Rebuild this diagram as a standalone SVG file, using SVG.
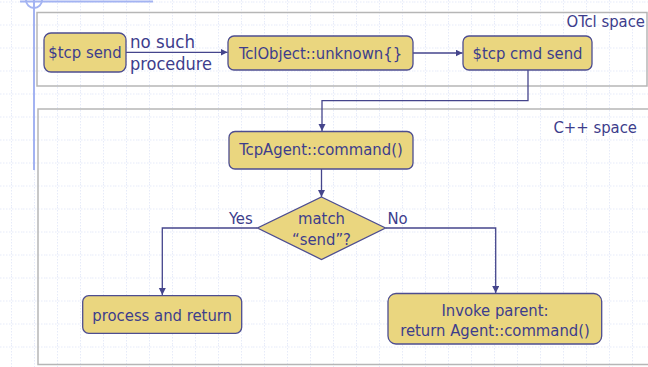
<svg xmlns="http://www.w3.org/2000/svg" width="648" height="367" viewBox="0 0 648 367">
  <defs>
    <style>
      .node { fill: #ead67f; stroke: #4d4d90; stroke-width: 1.3; }
      .space { fill: none; stroke: #b6b6b6; stroke-width: 1.5; }
      .label { font-family: "DejaVu Sans Condensed", "DejaVu Sans", Verdana, sans-serif; font-stretch: condensed; font-size: 16.5px; fill: #3d3d8c; }
      .mid { text-anchor: middle; }
      .end { text-anchor: end; }
      .edge { fill: none; stroke: #45458c; stroke-width: 1.3; }
      .grid { stroke: #e6ebf9; stroke-width: 1; stroke-dasharray: 1.5 1.5; }
      .rail { stroke: #a3b3f2; stroke-width: 2; fill: none; }
    </style>
    <marker id="arrow" markerUnits="userSpaceOnUse" markerWidth="8" markerHeight="8" refX="7" refY="3.5" orient="auto">
      <path d="M0,0 L7,3.5 L0,7 z" fill="#45458c"/>
    </marker>
    <pattern id="dots" patternUnits="userSpaceOnUse" x="0" y="0" width="23" height="23">
      <line class="grid" x1="11.5" y1="0" x2="11.5" y2="23"/>
      <line class="grid" x1="0" y1="2" x2="23" y2="2"/>
    </pattern>
  </defs>

  <!-- page background with dotted grid -->
  <rect x="0" y="0" width="648" height="367" fill="#ffffff"/>
  <rect x="0" y="0" width="648" height="367" fill="url(#dots)"/>

  <!-- slide rail decoration -->
  <g id="rail">
    <line class="rail" x1="34" y1="0" x2="34" y2="170"/>
    <line class="rail" x1="20" y1="1.5" x2="153" y2="1.5" stroke-width="1.5"/>
    <circle class="rail" cx="34" cy="0" r="8" stroke-width="1.5"/>
  </g>

  <!-- regions -->
  <g id="otcl-space">
    <rect class="space" x="37" y="12.5" width="610" height="73.5"/>
    <text class="label end" x="645" y="27">OTcl space</text>
  </g>
  <g id="cpp-space">
    <rect class="space" x="38" y="109" width="620" height="255.5"/>
    <text class="label end" x="637" y="133">C++ space</text>
  </g>

  <!-- connectors -->
  <g id="connectors">
    <path class="edge" d="M126,52.3 H227.5" marker-end="url(#arrow)"/>
    <path class="edge" d="M413,53 H462.5" marker-end="url(#arrow)"/>
    <path class="edge" d="M528,70 V100.7 H322 V131" marker-end="url(#arrow)"/>
    <path class="edge" d="M321.5,169 V197" marker-end="url(#arrow)"/>
    <path class="edge" d="M257.5,228 H162.3 V295" marker-end="url(#arrow)"/>
    <path class="edge" d="M385.5,228 H495.7 V293" marker-end="url(#arrow)"/>
    <text class="label" x="130" y="48" style="font-size:18.5px">no such</text>
    <text class="label" x="130" y="70" style="font-size:18px">procedure</text>
    <text class="label" x="229" y="223.5">Yes</text>
    <text class="label" x="387.5" y="223.5">No</text>
  </g>

  <!-- nodes -->
  <g id="tcp-send">
    <rect class="node" x="44" y="33" width="82" height="39" rx="7"/>
    <text class="label mid" x="85" y="58">$tcp send</text>
  </g>
  <g id="tclobject-unknown">
    <rect class="node" x="228" y="36" width="185" height="34" rx="6"/>
    <text class="label mid" x="320.5" y="58.5">TclObject::unknown{}</text>
  </g>
  <g id="tcp-cmd-send">
    <rect class="node" x="463" y="36" width="129" height="34" rx="6"/>
    <text class="label mid" x="527.5" y="58.5">$tcp cmd send</text>
  </g>
  <g id="tcpagent-command">
    <rect class="node" x="229" y="131.5" width="184" height="37.5" rx="6"/>
    <text class="label mid" x="321" y="154.5">TcpAgent::command()</text>
  </g>
  <g id="match-send">
    <polygon class="node" points="321.5,197 385.5,228 321.5,259.5 257.5,228"/>
    <text class="label mid" x="321.5" y="224">match</text>
    <text class="label mid" x="321.5" y="245">“send”?</text>
  </g>
  <g id="process-return">
    <rect class="node" x="82.7" y="295.7" width="159" height="37.6" rx="6"/>
    <text class="label mid" x="162.2" y="321">process and return</text>
  </g>
  <g id="invoke-parent">
    <rect class="node" x="388" y="293.5" width="213.7" height="50.5" rx="8"/>
    <text class="label mid" x="495" y="315.5">Invoke parent:</text>
    <text class="label mid" x="495" y="335.7">return Agent::command()</text>
  </g>
</svg>
